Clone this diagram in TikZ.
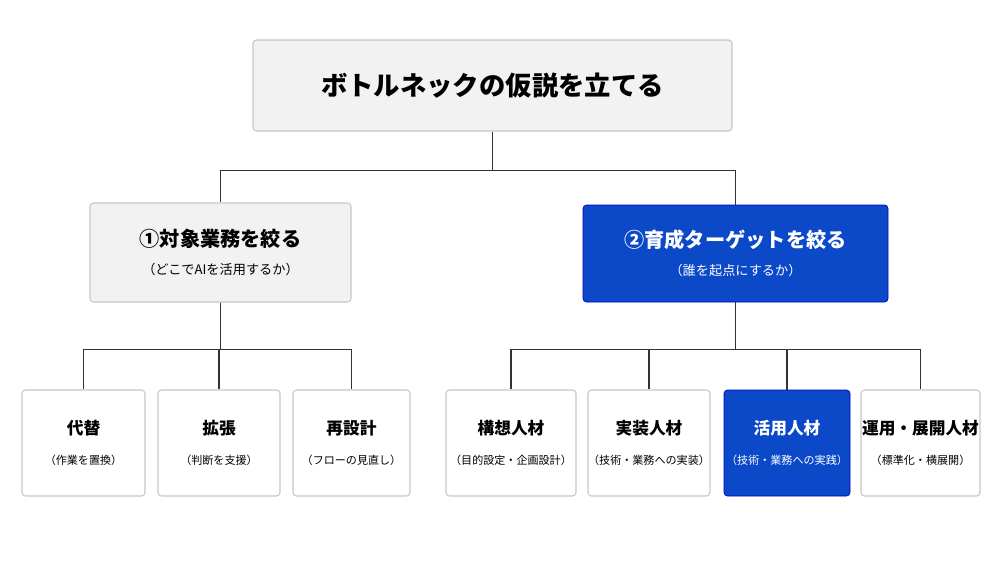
\documentclass[tikz,border=0pt]{standalone}
\usepackage{fontspec}
\setmainfont{Noto Sans CJK JP}
\begin{document}
\begin{tikzpicture}[x=0.02cm,y=-0.02cm,
  box/.style={draw=black!22,fill=black!5,rounded corners=2pt,line width=0.6pt,align=center,inner sep=0pt},
  blue/.style={draw=blue!75!black,fill={rgb,255:red,11;green,73;blue,201},text=white,rounded corners=2pt,align=center,inner sep=0pt},
  wbox/.style={draw=black!22,fill=white,rounded corners=2pt,line width=0.6pt,align=center,inner sep=0pt},
  ln/.style={line width=0.8pt,draw=black!80}]
\useasboundingbox[fill=white] (0,0) rectangle (1000,562);
\definecolor{bl}{RGB}{11,73,201}
% nodes
\node[box,minimum width=479*0.02cm,minimum height=91*0.02cm] (top) at (492.5,85.5) {\fontsize{15}{18}\selectfont\bfseries ボトルネックの仮説を立てる};
\node[box,minimum width=261*0.02cm,minimum height=99*0.02cm] (L) at (220.5,252.5) {{\fontsize{11.5}{14}\selectfont\bfseries ①対象業務を絞る}\\[4pt]{\fontsize{7.5}{9}\selectfont （どこでAIを活用するか）}};
\node[blue,minimum width=305*0.02cm,minimum height=97*0.02cm] (R) at (735.5,253.5) {{\fontsize{11.5}{14}\selectfont\bfseries ②育成ターゲットを絞る}\\[4pt]{\fontsize{7.5}{9}\selectfont （誰を起点にするか）}};
\newcommand{\kid}[6]{\node[#1,minimum width=#3*0.02cm,minimum height=106*0.02cm] (#2) at (#4,443) {{\fontsize{9.5}{11}\selectfont\bfseries #5}\\[5pt]{\fontsize{6.3}{8}\selectfont #6}};}
\kid{wbox}{a}{123}{83.5}{代替}{（作業を置換）}
\kid{wbox}{b}{122}{219}{拡張}{（判断を支援）}
\kid{wbox}{c}{117}{351.5}{再設計}{（フローの見直し）}
\kid{wbox}{d}{130}{511}{構想人材}{（目的設定・企画設計）}
\kid{wbox}{e}{122}{649}{実装人材}{（技術・業務への実装）}
\kid{blue}{f}{126}{787}{活用人材}{（技術・業務への実践）}
\kid{wbox}{g}{119}{920.5}{運用・展開人材}{（標準化・横展開）}
% connectors
\draw[ln] (top.south) -- ++(0,39) -| (L.north);
\draw[ln] (top.south) ++(0,39) -| (R.north);
\foreach \k in {a,b,c}{\draw[ln] (L.south) -- ++(0,47) -| (\k.north);}
\foreach \k in {d,e,f,g}{\draw[ln] (R.south) -- ++(0,47) -| (\k.north);}
\end{tikzpicture}
\end{document}
